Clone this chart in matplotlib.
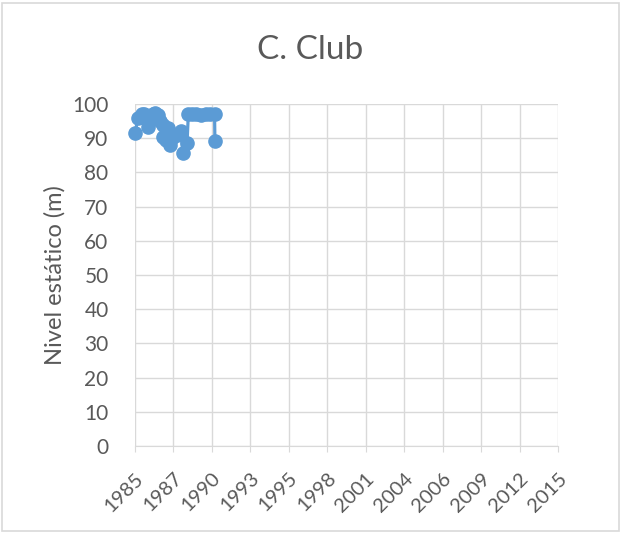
import datetime as dt
import matplotlib
matplotlib.use("Agg")
import matplotlib.pyplot as plt
import matplotlib.dates as mdates
from matplotlib.patches import Rectangle

# Niveles estáticos medidos en el pozo C. Club
fechas = ["1985-01-01", "1985-03-20", "1985-06-20", "1985-08-20", "1985-12-10",
          "1986-02-10", "1986-04-10", "1986-06-10", "1986-08-20", "1986-10-20",
          "1986-12-20", "1987-01-10", "1987-03-20", "1987-05-01", "1987-06-25",
          "1987-08-20", "1987-10-20", "1988-01-10", "1988-04-20", "1988-05-25",
          "1988-09-15", "1988-10-20", "1989-01-20", "1989-05-10", "1989-09-01",
          "1990-01-10", "1990-05-01", "1990-09-01", "1990-09-10"]
nivel = [91.4, 95.9, 97.0, 97.2, 93.4,
         96.0, 97.0, 97.5, 96.8, 95.0,
         93.8, 90.4, 89.5, 93.0, 88.0,
         90.0, 91.0, 91.0, 92.0, 85.6,
         88.5, 97.2, 97.0, 97.0, 96.8,
         97.0, 97.0, 97.0, 89.2]

inicio = dt.datetime(1985, 1, 1)
ticks_x = [inicio + dt.timedelta(days=1000 * i) for i in range(12)]
ticks_y = list(range(0, 101, 10))

gris = "#595959"
azul = "#5B9BD5"
plt.rcParams["font.family"] = ["Lato", "DejaVu Sans"]

fig = plt.figure(figsize=(6.21, 5.33), dpi=100)
fig.patches.append(Rectangle((0.004, 0.004), 0.992, 0.99, transform=fig.transFigure,
                             fill=False, edgecolor="#D9D9D9", linewidth=1.2))
ax = fig.add_axes([135 / 621, 1 - 446 / 533, (558 - 135) / 621, (446 - 104) / 533])

x = [dt.datetime.strptime(f, "%Y-%m-%d") for f in fechas]
ax.plot(x, nivel, color=azul, linewidth=2.3, marker="o", markersize=9.5,
        markerfacecolor=azul, markeredgecolor=azul, zorder=3, clip_on=False)

ax.set_xlim(ticks_x[0], ticks_x[-1])
ax.set_ylim(0, 100)
ax.set_xticks(ticks_x)
ax.xaxis.set_major_formatter(mdates.DateFormatter("%Y"))
ax.set_yticks(ticks_y)
ax.grid(True, color="#D9D9D9", linewidth=1)
ax.set_axisbelow(True)
for s in ["top", "right", "left"]:
    ax.spines[s].set_visible(False)
ax.spines["bottom"].set_color("#D9D9D9")
ax.tick_params(axis="y", length=0, labelsize=15, labelcolor=gris, pad=19)
ax.tick_params(axis="x", length=4, color="#D9D9D9", labelsize=14.5, labelcolor=gris, pad=13)
plt.setp(ax.get_xticklabels(), rotation=45, ha="right", rotation_mode="anchor")

ax.set_ylabel("Nivel estático (m)", fontsize=17, color=gris, labelpad=5)
fig.text(0.5, 1 - 50 / 533, "C. Club", ha="center", va="center", fontsize=24, color=gris)

fig.savefig("out.png", dpi=100)
